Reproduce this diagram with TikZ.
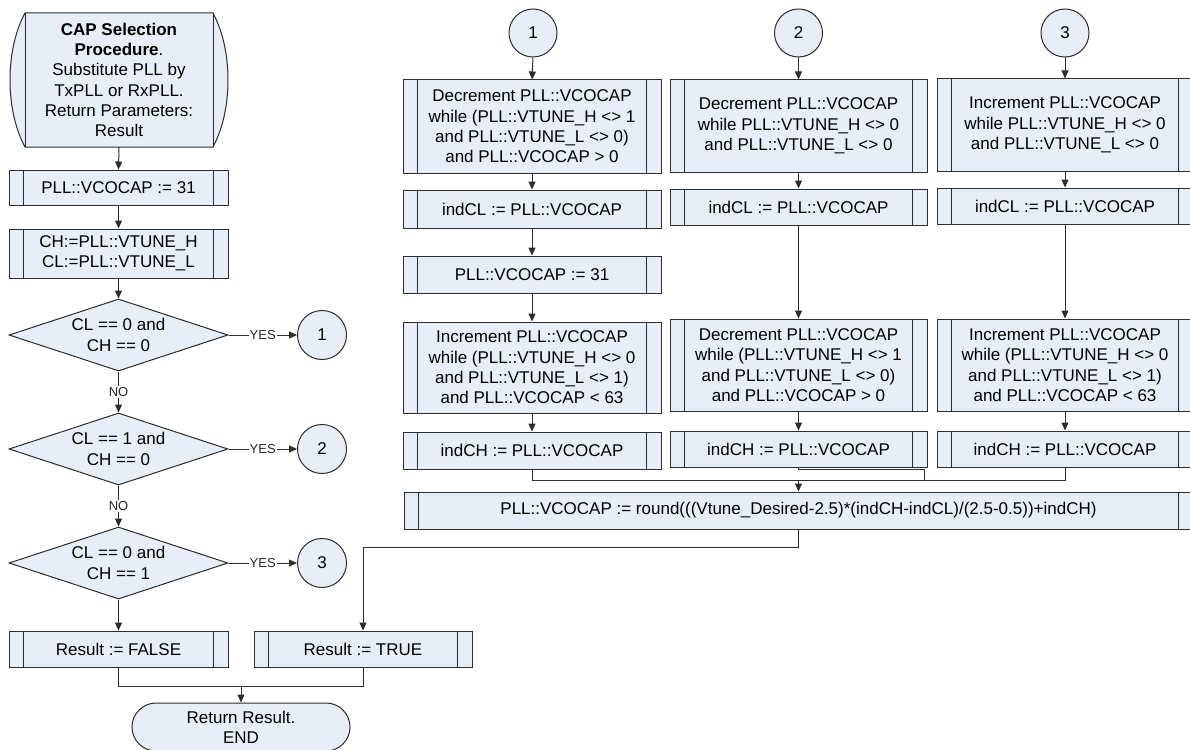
\documentclass[tikz,border=0pt]{standalone}
\usepackage{fontspec}
\setmainfont{Liberation Sans}
\usetikzlibrary{shapes.geometric,arrows.meta}
\definecolor{bf}{RGB}{232,238,247}
\definecolor{lc}{RGB}{45,45,45}
\newcommand\myfs{\fontsize{17}{20.3}\selectfont}
\newcommand\mysm{\fontsize{13}{15}\selectfont}
\begin{document}
\begin{tikzpicture}[x=1pt,y=-1pt,
  proc/.style={rectangle, draw=lc, fill=bf, line width=1pt, inner sep=0pt, align=center, font=\myfs,
    path picture={\draw[lc, line width=1pt]
      ([xshift=14.5pt]path picture bounding box.north west) -- ([xshift=14.5pt]path picture bounding box.south west)
      ([xshift=-14.5pt]path picture bounding box.north east) -- ([xshift=-14.5pt]path picture bounding box.south east);}},
  dec/.style={diamond, aspect=3.04, draw=lc, fill=bf, line width=1pt, inner sep=0pt, align=center, font=\myfs,
    minimum width=219pt, minimum height=72pt},
  circ/.style={circle, draw=lc, fill=bf, line width=1pt, minimum size=49pt, inner sep=0pt, font=\myfs},
  term/.style={rectangle, rounded corners=24pt, draw=lc, fill=bf, line width=1pt, minimum width=218pt,
    minimum height=48pt, align=center, font=\myfs},
  conn/.style={draw=lc, line width=1pt},
  arr/.style={conn, -{Triangle[length=8pt,width=7pt]}},
  lbl/.style={fill=white, inner sep=1pt, font=\mysm, text=black!85}
]
\useasboundingbox (0,0) rectangle (1190,749);
\clip (0,0) rectangle (1190,749);
\fill[white] (0,0) rectangle (1190,749);

% ---------- left column ----------
\path[fill=bf, draw=lc, line width=1pt] (25,13) -- (213,13) .. controls (233,50) and (233,110) .. (213,147)
  -- (25,147) .. controls (5,110) and (5,50) .. (25,13) -- cycle;
\draw[lc, line width=1pt] (25,13) -- (25,147) (213,13) -- (213,147);
\node[align=center, font=\myfs, minimum width=188pt, minimum height=134pt, inner sep=0pt] (start) at (119,80)
  {\textbf{CAP Selection}\\\textbf{Procedure}.\\Substitute PLL by\\TxPLL or RxPLL.\\Return Parameters:\\Result};

\node[proc, minimum width=219pt, minimum height=35pt] (l1) at (118.5,187.5) {PLL::VCOCAP := 31};
\node[proc, minimum width=219pt, minimum height=49pt] (l2) at (118.5,253.5) {CH:=PLL::VTUNE\_H\\CL:=PLL::VTUNE\_L};
\node[dec] (d1) at (118.5,335) {CL == 0 and\\CH == 0};
\node[dec] (d2) at (118.5,449) {CL == 1 and\\CH == 0};
\node[dec] (d3) at (118.5,563) {CL == 0 and\\CH == 1};
\node[circ] (k1) at (322,335) {1};
\node[circ] (k2) at (322,449) {2};
\node[circ] (k3) at (322,563) {3};
\node[proc, minimum width=219pt, minimum height=36pt] (rf) at (118.5,649) {Result := FALSE};
\node[proc, minimum width=218pt, minimum height=36pt] (rt) at (363,649) {Result := TRUE};
\node[term] (end) at (241,727) {Return Result.\\END};
\coordinate (mL) at (241,686);

\draw[arr] (start.south) -- (l1.north);
\draw[arr] (l1.south) -- (l2.north);
\draw[arr] (l2.south) -- (d1.north);
\draw[arr] (d1.east) -- node[lbl] {YES} (k1.west);
\draw[arr] (d2.east) -- node[lbl] {YES} (k2.west);
\draw[arr] (d3.east) -- node[lbl] {YES} (k3.west);
\draw[arr] (d1.south) -- node[lbl] {NO} (d2.north);
\draw[arr] (d2.south) -- node[lbl] {NO} (d3.north);
\draw[arr] (d3.south) -- (rf.north);
\draw[conn] (rf.south) |- (mL);
\draw[conn] (rt.south) |- (mL);
\draw[arr] (mL) -- (end.north);

% ---------- column 1 ----------
\node[circ, minimum size=48pt] (t1) at (533,33) {1};
\node[proc, minimum width=258pt, minimum height=93pt] (a1) at (532,126.5)
  {Decrement PLL::VCOCAP\\while (PLL::VTUNE\_H <> 1\\and PLL::VTUNE\_L <> 0)\\and PLL::VCOCAP > 0};
\node[proc, minimum width=258pt, minimum height=38pt] (a2) at (532,209) {indCL := PLL::VCOCAP};
\node[proc, minimum width=258pt, minimum height=37pt] (a3) at (532,274.5) {PLL::VCOCAP := 31};
\node[proc, minimum width=258pt, minimum height=91pt] (a4) at (532,367.5)
  {Increment PLL::VCOCAP\\while (PLL::VTUNE\_H <> 0\\and PLL::VTUNE\_L <> 1)\\and PLL::VCOCAP < 63};
\node[proc, minimum width=258pt, minimum height=37pt] (a5) at (532,450.5) {indCH := PLL::VCOCAP};

% ---------- column 2 ----------
\node[circ, minimum size=48pt] (t2) at (798.5,33) {2};
\node[proc, minimum width=257pt, minimum height=92pt] (b1) at (798.5,126)
  {Decrement PLL::VCOCAP\\while PLL::VTUNE\_H <> 0\\and PLL::VTUNE\_L <> 0};
\node[proc, minimum width=257pt, minimum height=36pt] (b2) at (798.5,207) {indCL := PLL::VCOCAP};
\node[proc, minimum width=257pt, minimum height=92pt] (b4) at (798.5,365)
  {Decrement PLL::VCOCAP\\while (PLL::VTUNE\_H <> 1\\and PLL::VTUNE\_L <> 0)\\and PLL::VCOCAP > 0};
\node[proc, minimum width=257pt, minimum height=36pt] (b5) at (798.5,449) {indCH := PLL::VCOCAP};

% ---------- column 3 ----------
\node[circ, minimum size=48pt] (t3) at (1065,33) {3};
\node[proc, minimum width=256pt, minimum height=92pt] (c1) at (1065,125)
  {Increment PLL::VCOCAP\\while PLL::VTUNE\_H <> 0\\and PLL::VTUNE\_L <> 0};
\node[proc, minimum width=256pt, minimum height=36pt] (c2) at (1065,206) {indCL := PLL::VCOCAP};
\node[proc, minimum width=256pt, minimum height=92pt] (c4) at (1065,365)
  {Increment PLL::VCOCAP\\while (PLL::VTUNE\_H <> 0\\and PLL::VTUNE\_L <> 1)\\and PLL::VCOCAP < 63};
\node[proc, minimum width=256pt, minimum height=36pt] (c5) at (1065,449) {indCH := PLL::VCOCAP};

% ---------- formula ----------
\node[proc, minimum width=789pt, minimum height=37pt] (f) at (798.5,510.5)
  {PLL::VCOCAP := round(((Vtune\_Desired-2.5)*(indCH-indCL)/(2.5-0.5))+indCH)};
\coordinate (mR) at (798.5,480);
\coordinate (b5r) at (924,480);

\draw[arr] (t1.south) -- (a1.north);
\draw[arr] (a1.south) -- (a2.north);
\draw[arr] (a2.south) -- (a3.north);
\draw[arr] (a3.south) -- (a4.north);
\draw[arr] (a4.south) -- (a5.north);

\draw[arr] (t2.south) -- (b1.north);
\draw[arr] (b1.south) -- (b2.north);
\draw[arr] (b2.south) -- (b4.north);
\draw[arr] (b4.south) -- (b5.north);

\draw[arr] (t3.south) -- (c1.north);
\draw[arr] (c1.south) -- (c2.north);
\draw[arr] (c2.south) -- (c4.north);
\draw[arr] (c4.south) -- (c5.north);

\draw[conn] (a5.south) |- (mR);
\draw[conn] (c5.south) |- (mR);
\draw[conn] (b5.south) -- ++(0,1.5) -| (b5r) -- (mR);
\draw[arr] (mR) -- (f.north);
\draw[arr] (f.south) -- ++(0,18) -| (rt.north);
\end{tikzpicture}
\end{document}
